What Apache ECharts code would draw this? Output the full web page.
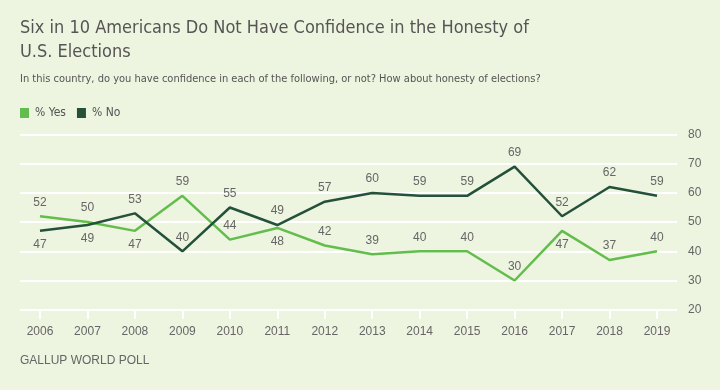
<!DOCTYPE html>
<html>
<head>
<meta charset="utf-8">
<script src="https://cdn.jsdelivr.net/npm/echarts@6/dist/echarts.min.js"></script>
<style>
html,body{margin:0;padding:0;background:#edf4df;}
#c{width:720px;height:390px;}
</style>
</head>
<body>
<div id="c"></div>
<script>
var years = ['2006','2007','2008','2009','2010','2011','2012','2013','2014','2015','2016','2017','2018','2019'];
var yesValues = [52,50,47,59,44,48,42,39,40,40,30,47,37,40];
var noValues = [47,49,53,40,55,49,57,60,59,59,69,52,62,59];
var yesLabelPos = ['top','top','bottom','top','top','bottom','top','top','top','top','top','bottom','top','top'];
var noLabelPos = ['bottom','bottom','top','top','top','top','top','top','top','top','top','top','top','top'];
var yTicks = [20,30,40,50,60,70,80];

var narrow = '"DejaVu Sans Condensed","Liberation Sans Narrow",sans-serif';
var regular = '"Liberation Sans",Arial,sans-serif';
var textColor = '#666666';

function mkData(vals, pos){
  return vals.map(function(v,i){
    return {value: v, label: {position: pos[i]}};
  });
}

var chart = echarts.init(document.getElementById('c'));
chart.setOption({
  backgroundColor: '#edf4df',
  animation: false,
  title: [
    {text: 'Six in 10 Americans Do Not Have Confidence in the Honesty of\nU.S. Elections',
     left: 20, top: 16, padding: 0,
     textStyle: {fontFamily: narrow, fontSize: 18, fontWeight: 'normal', color: '#555555', lineHeight: 24}},
    {text: 'In this country, do you have confidence in each of the following, or not? How about honesty of elections?',
     left: 20, top: 74, padding: 0,
     textStyle: {fontFamily: narrow, fontSize: 11, fontWeight: 'normal', color: '#555555'}},
    {text: 'GALLUP WORLD POLL',
     left: 20, top: 355, padding: 0,
     textStyle: {fontFamily: regular, fontSize: 12, fontWeight: 'normal', color: '#666666'}}
  ],
  legend: {
    left: 20, top: 107, padding: 0,
    itemWidth: 9, itemHeight: 10, itemGap: 11,
    icon: 'rect',
    textStyle: {fontFamily: narrow, fontSize: 12, color: '#555555', padding: [0,0,0,1]},
    data: ['% Yes','% No']
  },
  grid: [
    {left: 20, right: 43, top: 134.5, bottom: 80.3},
    {left: 40, right: 63, top: 134.5, bottom: 80.3}
  ],
  xAxis: [
    {type: 'value', gridIndex: 0, show: false, min: 0, max: 1},
    {type: 'category', gridIndex: 1, data: years, boundaryGap: false,
     axisLine: {show: false},
     axisTick: {show: true, length: 9, lineStyle: {color: '#ffffff', width: 2}},
     axisLabel: {margin: 16, fontFamily: regular, fontSize: 12, color: textColor}}
  ],
  yAxis: [
    {type: 'value', gridIndex: 0, position: 'right', min: 20, max: 80, interval: 10,
     axisLine: {show: false}, axisTick: {show: false},
     axisLabel: {margin: 11, fontFamily: regular, fontSize: 12, color: textColor},
     splitLine: {lineStyle: {color: '#ffffff', width: 2}}},
    {type: 'value', gridIndex: 1, min: 20, max: 80, show: false, splitLine: {show: false}}
  ],
  series: [
    {name: '% Yes', type: 'line', xAxisIndex: 1, yAxisIndex: 1,
     data: mkData(yesValues, yesLabelPos),
     showSymbol: true, symbol: 'circle', symbolSize: 0.01,
     lineStyle: {color: '#63bd4c', width: 2.5},
     itemStyle: {color: '#63bd4c'},
     emphasis: {disabled: true},
     label: {show: true, distance: 8, fontFamily: regular, fontSize: 12, color: textColor},
     z: 3},
    {name: '% No', type: 'line', xAxisIndex: 1, yAxisIndex: 1,
     data: mkData(noValues, noLabelPos),
     showSymbol: true, symbol: 'circle', symbolSize: 0.01,
     lineStyle: {color: '#24513a', width: 2.5},
     itemStyle: {color: '#24513a'},
     emphasis: {disabled: true},
     label: {show: true, distance: 8, fontFamily: regular, fontSize: 12, color: textColor},
     z: 4}
  ]
});
</script>
</body>
</html>
